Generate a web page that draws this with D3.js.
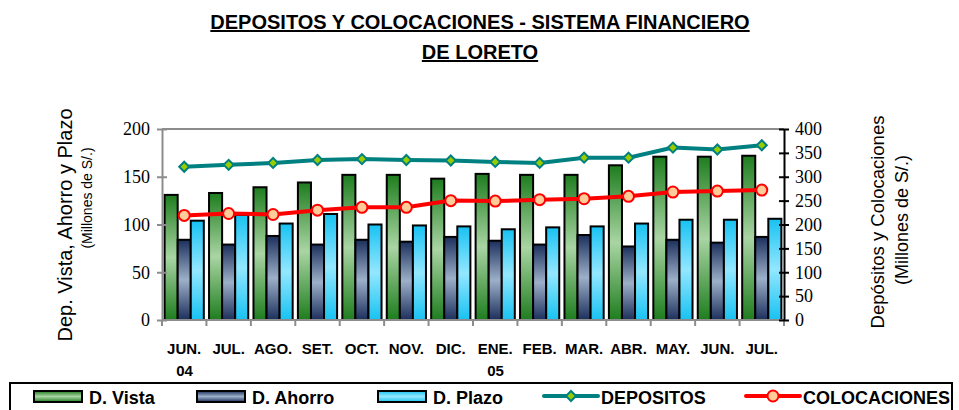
<!DOCTYPE html>
<html>
<head>
<meta charset="utf-8">
<script src="https://cdn.jsdelivr.net/npm/d3@7"></script>
<style>
  body { margin: 0; background: #fff; }
  svg { display: block; }
</style>
</head>
<body>
<svg id="svg" width="959" height="410"></svg>
<script>
// Data
var months = ["JUN.", "JUL.", "AGO.", "SET.", "OCT.", "NOV.", "DIC.", "ENE.", "FEB.", "MAR.", "ABR.", "MAY.", "JUN.", "JUL."];
var years = ["04", "", "", "", "", "", "", "05", "", "", "", "", "", ""];
var vista = [131, 133, 139, 144, 152, 152, 148, 153, 152, 152, 162, 171, 171, 172];
var ahorro = [84, 79, 88, 79, 84, 82, 87, 83, 79, 89, 77, 84, 81, 87];
var plazo = [104, 110, 101, 111, 100, 99, 98, 95, 97, 98, 101, 105, 105, 106];
var depositos = [321, 325, 329, 335, 337, 335, 334, 331, 329, 340, 340, 361, 357, 366];
var colocaciones = [219, 223, 221, 230, 236, 236, 250, 249, 252, 254, 259, 268, 270, 272];
var leftTicks = [0, 50, 100, 150, 200];
var rightTicks = [0, 50, 100, 150, 200, 250, 300, 350, 400];

var sans = "'Liberation Sans Narrow', 'Arial Narrow', 'Liberation Sans', Arial, sans-serif";
var serif = "'Liberation Serif', 'Times New Roman', 'DejaVu Serif', serif";

var svg = d3.select("#svg");
var defs = svg.append("defs");

function addGradient(id, edge, mid)
{
    var g = defs.append("linearGradient").attr("id", id)
        .attr("x1", 0).attr("y1", 0).attr("x2", 0).attr("y2", 1);
    g.append("stop").attr("offset", "0%").attr("stop-color", edge);
    g.append("stop").attr("offset", "50%").attr("stop-color", mid);
    g.append("stop").attr("offset", "100%").attr("stop-color", edge);
}
addGradient("gVista", "#1e7d1e", "#a9d5a3");
addGradient("gAhorro", "#1b2f5c", "#9db0c9");
addGradient("gPlazo", "#18c2f2", "#93e7ff");

var plotLeft = 162, plotRight = 784, plotTop = 129, plotBottom = 320;

var x = d3.scaleBand().domain(d3.range(months.length)).range([plotLeft, plotRight]);
var yL = d3.scaleLinear().domain([0, 200]).range([plotBottom, plotTop]);
var yR = d3.scaleLinear().domain([0, 400]).range([plotBottom, plotTop]);

// Title
var title = svg.append("g").attr("font-family", sans).attr("font-weight", "bold")
    .attr("font-size", 20).attr("text-anchor", "middle").attr("text-decoration", "underline");
title.append("text").attr("x", 480).attr("y", 29).text("DEPOSITOS Y COLOCACIONES - SISTEMA FINANCIERO ");
title.append("text").attr("x", 480).attr("y", 59).text("DE LORETO");

// Top border of the plot area
svg.append("line").attr("x1", plotLeft).attr("x2", plotRight).attr("y1", plotTop).attr("y2", plotTop)
    .attr("stroke", "#8c8c8c").attr("stroke-width", 2);

// Bars
var series = [
    { values: vista, fill: "url(#gVista)" },
    { values: ahorro, fill: "url(#gAhorro)" },
    { values: plazo, fill: "url(#gPlazo)" }
];
var inner = d3.scaleBand().domain([0, 1, 2]).range([0, x.bandwidth()]).paddingOuter(0.2);
series.forEach(function(s, si)
{
    svg.append("g").selectAll("rect")
        .data(s.values)
        .join("rect")
        .attr("x", (d, i) => x(i) + inner(si))
        .attr("y", d => yL(d))
        .attr("width", inner.bandwidth())
        .attr("height", d => plotBottom - yL(d))
        .attr("fill", s.fill)
        .attr("stroke", "#000")
        .attr("stroke-width", 2);
});

// Left axis
var axL = svg.append("g").attr("transform", `translate(${plotLeft},0)`)
    .call(d3.axisLeft(yL).tickValues(leftTicks).tickSize(0).tickPadding(12));
axL.select(".domain").attr("stroke", "#8c8c8c").attr("stroke-width", 2);
axL.selectAll(".tick").append("line").attr("x1", -5).attr("x2", 5)
    .attr("stroke", "#8c8c8c").attr("stroke-width", 2);
axL.selectAll("text").style("font-family", serif).style("font-size", "18px").attr("fill", "#000");

// Bottom axis
var axB = svg.append("g").attr("transform", `translate(0,${plotBottom})`);
axB.append("line").attr("x1", plotLeft).attr("x2", plotRight).attr("stroke", "#8c8c8c").attr("stroke-width", 2);
axB.selectAll(".cat").data(d3.range(months.length + 1)).join("line")
    .attr("x1", d => plotLeft + d * x.step()).attr("x2", d => plotLeft + d * x.step())
    .attr("y1", 0).attr("y2", 6).attr("stroke", "#8c8c8c").attr("stroke-width", 2);
axB.selectAll(".mo").data(months).join("text")
    .attr("x", (d, i) => x(i) + x.bandwidth() / 2)
    .attr("y", 34)
    .attr("text-anchor", "middle").attr("font-family", sans).attr("font-weight", "bold").attr("font-size", 15)
    .text(d => d);
axB.selectAll(".yr").data(years).join("text")
    .attr("x", (d, i) => x(i) + x.bandwidth() / 2 - 8)
    .attr("y", 56)
    .attr("text-anchor", "start").attr("font-family", sans).attr("font-weight", "bold").attr("font-size", 15)
    .text(d => d);

// Right axis
var axR = svg.append("g").attr("transform", `translate(${plotRight},0)`)
    .call(d3.axisRight(yR).tickValues(rightTicks).tickSize(0).tickPadding(11));
axR.select(".domain").attr("stroke", "#000").attr("stroke-width", 2);
axR.selectAll(".tick").append("line").attr("x1", -5).attr("x2", 5)
    .attr("stroke", "#000").attr("stroke-width", 2);
axR.selectAll("text").style("font-family", serif).style("font-size", "18px").attr("fill", "#000");

// Lines
var cx = i => x(i) + x.bandwidth() / 2;
var lineGen = d3.line().x((d, i) => cx(i)).y(d => yR(d));
svg.append("path").datum(depositos).attr("d", lineGen)
    .attr("fill", "none").attr("stroke", "#008080").attr("stroke-width", 4);
svg.append("g").selectAll("path").data(depositos).join("path")
    .attr("d", d3.symbol(d3.symbolSquare, 50))
    .attr("transform", (d, i) => `translate(${cx(i)},${yR(d)}) rotate(45)`)
    .attr("fill", "#99cc00").attr("stroke", "#008080").attr("stroke-width", 2);

svg.append("path").datum(colocaciones).attr("d", lineGen)
    .attr("fill", "none").attr("stroke", "#ff0000").attr("stroke-width", 4);
svg.append("g").selectAll("circle").data(colocaciones).join("circle")
    .attr("cx", (d, i) => cx(i)).attr("cy", d => yR(d)).attr("r", 5.5)
    .attr("fill", "#ffcc99").attr("stroke", "#ff0000").attr("stroke-width", 2);

// Axis titles
svg.append("text").attr("transform", "translate(72,225) rotate(-90)")
    .attr("text-anchor", "middle").attr("font-family", sans).attr("font-size", 20)
    .text("Dep. Vista, Ahorro y Plazo");
svg.append("text").attr("transform", "translate(92,198) rotate(-90)")
    .attr("text-anchor", "middle").attr("font-family", sans).attr("font-size", 14)
    .text("(Millones de S/.)");
svg.append("text").attr("transform", "translate(884,222) rotate(-90)")
    .attr("text-anchor", "middle").attr("font-family", sans).attr("font-size", 18.5)
    .text("Depósitos y Colocaciones");
svg.append("text").attr("transform", "translate(908,220) rotate(-90)")
    .attr("text-anchor", "middle").attr("font-family", sans).attr("font-size", 18)
    .text("(Millones de S/.)");

// Legend
var legend = svg.append("g");
legend.append("rect").attr("x", 10).attr("y", 383).attr("width", 942).attr("height", 40)
    .attr("fill", "#fff").attr("stroke", "#000").attr("stroke-width", 2);
var legItems = [
    { label: "D. Vista", fill: "url(#gVista)", x: 34 },
    { label: "D. Ahorro", fill: "url(#gAhorro)", x: 197 },
    { label: "D. Plazo", fill: "url(#gPlazo)", x: 378 }
];
legItems.forEach(function(it)
{
    legend.append("rect").attr("x", it.x).attr("y", 391).attr("width", 48).attr("height", 11)
        .attr("fill", it.fill).attr("stroke", "#000").attr("stroke-width", 2);
    legend.append("text").attr("x", it.x + 55).attr("y", 404)
        .attr("font-family", sans).attr("font-weight", "bold").attr("font-size", 18).text(it.label);
});
legend.append("line").attr("x1", 544).attr("x2", 598).attr("y1", 396).attr("y2", 396)
    .attr("stroke", "#008080").attr("stroke-width", 4).attr("stroke-linecap", "round");
legend.append("path").attr("d", d3.symbol(d3.symbolSquare, 50))
    .attr("transform", "translate(571,396) rotate(45)")
    .attr("fill", "#99cc00").attr("stroke", "#008080").attr("stroke-width", 2);
legend.append("text").attr("x", 601).attr("y", 404)
    .attr("font-family", sans).attr("font-weight", "bold").attr("font-size", 18).text("DEPOSITOS");
legend.append("line").attr("x1", 746).attr("x2", 800).attr("y1", 396).attr("y2", 396)
    .attr("stroke", "#ff0000").attr("stroke-width", 4).attr("stroke-linecap", "round");
legend.append("circle").attr("cx", 773).attr("cy", 396).attr("r", 5.5)
    .attr("fill", "#ffcc99").attr("stroke", "#ff0000").attr("stroke-width", 2);
legend.append("text").attr("x", 803).attr("y", 404)
    .attr("font-family", sans).attr("font-weight", "bold").attr("font-size", 18).text("COLOCACIONES");
</script>
</body>
</html>
